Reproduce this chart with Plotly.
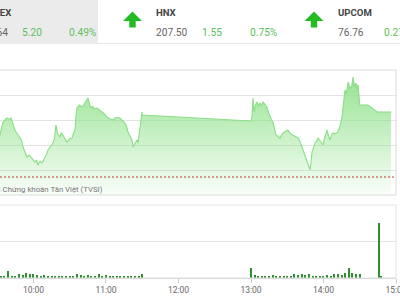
import plotly.graph_objects as go

DAY = "2023-05-30 "

# ---- price series (VNINDEX intraday) ----
price_times = [
    "09:32:00", "09:34:50", "09:36:30", "09:38:05", "09:40:00", "09:41:25", "09:43:00", "09:44:40",
    "09:46:30", "09:48:50", "09:50:00", "09:51:20", "09:53:00", "09:54:35", "09:56:30", "09:58:50",
    "10:00:00", "10:01:10", "10:02:30", "10:03:40", "10:05:20", "10:07:00", "10:08:10", "10:09:30",
    "10:11:00", "10:12:00", "10:14:00", "10:16:05", "10:17:20", "10:18:35", "10:20:00", "10:21:55",
    "10:23:00", "10:24:25", "10:26:00", "10:27:40", "10:30:00", "10:31:55", "10:33:00", "10:34:20",
    "10:35:10", "10:36:00", "10:38:00", "10:40:05", "10:41:30", "10:42:35", "10:44:00", "10:45:05",
    "10:46:20", "10:47:35", "10:49:00", "10:50:00", "10:52:35", "10:54:40", "10:56:40", "10:58:30",
    "11:00:50", "11:03:00", "11:05:50", "11:08:00", "11:11:35", "11:13:30", "11:15:40", "11:17:00",
    "11:18:10", "11:20:00", "11:21:30", "11:22:20", "11:24:00", "11:25:40", "11:26:30", "11:28:05",
    "11:29:50", "11:30:00",
    "13:00:00", "13:00:50", "13:01:40", "13:02:30", "13:03:40", "13:05:00", "13:06:20", "13:07:30",
    "13:08:50", "13:10:00", "13:11:30", "13:13:10", "13:14:30", "13:15:40", "13:17:00", "13:18:10",
    "13:19:30", "13:20:40", "13:22:20", "13:24:00", "13:25:15", "13:26:30", "13:28:30", "13:30:35",
    "13:32:40", "13:34:50", "13:36:50", "13:38:55", "13:40:30", "13:42:10", "13:43:30", "13:44:40",
    "13:46:00", "13:47:10", "13:48:50", "13:49:40", "13:50:30", "13:51:50", "13:53:00", "13:54:20",
    "13:55:30", "13:57:30", "13:59:35", "14:01:00", "14:02:55", "14:04:10", "14:05:25", "14:06:40",
    "14:07:55", "14:10:00", "14:12:00", "14:13:40", "14:15:20", "14:16:30", "14:17:50", "14:19:00",
    "14:20:20", "14:21:50", "14:23:35", "14:24:25", "14:25:40", "14:26:55", "14:27:50", "14:28:35",
    "14:29:25", "14:30:00", "14:36:50", "14:44:20", "14:55:55",
]
price_values = [
    1064.70, 1065.84, 1066.00, 1066.16, 1066.05, 1066.16, 1065.70, 1065.20,
    1064.90, 1064.56, 1064.40, 1063.84, 1063.40, 1063.04, 1063.20, 1062.96,
    1062.80, 1062.64, 1062.80, 1062.40, 1062.70, 1062.56, 1062.75, 1062.96,
    1063.30, 1063.60, 1063.90, 1064.16, 1064.50, 1065.60, 1064.90, 1064.64,
    1065.00, 1064.80, 1064.50, 1064.24, 1064.50, 1064.56, 1064.90, 1065.20,
    1066.30, 1066.96, 1067.20, 1067.04, 1067.20, 1067.36, 1067.50, 1067.76,
    1067.30, 1066.96, 1067.10, 1066.90, 1066.96, 1066.80, 1066.64, 1066.50,
    1066.24, 1066.10, 1066.00, 1066.20, 1066.16, 1066.00, 1065.76, 1065.50,
    1065.04, 1064.70, 1064.40, 1063.84, 1064.10, 1064.40, 1064.16, 1065.44,
    1066.64, 1066.40,
    1065.92, 1066.20, 1067.76, 1066.64, 1067.20, 1067.44, 1067.10, 1067.36,
    1067.20, 1067.44, 1067.20, 1067.04, 1066.60, 1066.24, 1066.00, 1065.84,
    1065.30, 1064.80, 1064.70, 1064.56, 1064.80, 1064.96, 1065.10, 1065.20,
    1064.90, 1064.80, 1064.70, 1064.56, 1064.30, 1063.84, 1063.50, 1063.04,
    1062.70, 1062.40, 1062.00, 1062.60, 1063.44, 1063.80, 1064.16, 1064.30,
    1064.56, 1064.30, 1064.00, 1064.60, 1065.20, 1064.70, 1064.40, 1064.80,
    1064.96, 1064.90, 1065.04, 1065.50, 1066.24, 1067.30, 1068.40, 1068.10,
    1069.04, 1068.50, 1068.80, 1069.44, 1068.70, 1068.96, 1068.50, 1068.80,
    1067.36, 1067.20, 1067.20, 1066.64, 1066.64,
]
ref_value = 1061.44

# ---- volume series (millions of shares) ----
vol_times = [
    "09:33", "09:36", "09:39", "09:42", "09:45", "09:48", "09:51", "09:54", "09:57", "10:00",
    "10:03", "10:06", "10:09", "10:12", "10:15", "10:18", "10:21", "10:24", "10:27", "10:30",
    "10:33", "10:36", "10:39", "10:42", "10:45", "10:48", "10:51", "10:54", "10:57", "11:00",
    "11:03", "11:06", "11:09", "11:12", "11:15", "11:18", "11:21", "11:24", "11:27", "11:30",
    "13:00", "13:03", "13:06", "13:09", "13:12", "13:15", "13:18", "13:21", "13:24", "13:27",
    "13:30", "13:33", "13:36", "13:39", "13:42", "13:45", "13:48", "13:51", "13:54", "13:57",
    "14:00", "14:03", "14:06", "14:09", "14:12", "14:15", "14:18", "14:21", "14:24", "14:27",
    "14:30", "14:46", "14:48",
]
vol_values = [
    0.03, 0.04, 0.20, 0.05, 0.06, 0.12, 0.09, 0.14, 0.10, 0.11,
    0.07, 0.06, 0.08, 0.05, 0.06, 0.04, 0.03, 0.04, 0.03, 0.04,
    0.05, 0.11, 0.07, 0.04, 0.08, 0.05, 0.03, 0.10, 0.04, 0.09,
    0.03, 0.05, 0.03, 0.06, 0.03, 0.04, 0.05, 0.03, 0.04, 0.11,
    0.28, 0.08, 0.04, 0.05, 0.04, 0.06, 0.09, 0.05, 0.04, 0.03,
    0.05, 0.04, 0.11, 0.08, 0.12, 0.09, 0.10, 0.06, 0.04, 0.06,
    0.03, 0.09, 0.05, 0.10, 0.12, 0.09, 0.13, 0.27, 0.14, 0.12,
    0.10, 1.50, 0.03,
]
tick_labels = ["10:00", "11:00", "12:00", "13:00", "14:00", "15:00"]

# ---- header ----
index_names = ["VNINDEX", "HNX", "UPCOM"]
index_values = ["1066.64", "207.50", "76.76"]
index_changes = ["5.20", "1.55", "0.27"]
index_pcts = ["0.49%", "0.75%", ""]

FONT = "Roboto, sans-serif"
W, H, MR = 400, 300, 4
PW = W - MR


def px(x):
    return x / PW


def py(y):
    return 1 - y / H


GREEN_TXT = "#5cbf5c"
GREY_TXT = "#666666"

fig = go.Figure()

fig.add_trace(go.Scatter(
    x=[DAY + t for t in price_times], y=price_values,
    mode="lines", line=dict(color="#8ade85", width=1.1),
    fill="tozeroy",
    fillgradient=dict(type="vertical",
                      colorscale=[[0, "rgba(145,226,140,0.04)"], [1, "rgba(145,226,140,1.0)"]],
                      start=1060, stop=1070),
    xaxis="x", yaxis="y", hoverinfo="skip",
))

fig.add_trace(go.Bar(
    x=[DAY + t + ":00" for t in vol_times], y=vol_values,
    marker=dict(color="#2f8f2f", line=dict(width=0)),
    width=60000, xaxis="x2", yaxis="y2", hoverinfo="skip",
))

xr = [DAY + "09:32:17", DAY + "15:00:00"]
main_dom = [py(195), py(70)]
vol_dom = [py(278), py(205)]

fig.update_layout(
    width=W, height=H,
    margin=dict(l=0, r=MR, t=0, b=0, autoexpand=False),
    paper_bgcolor="white", plot_bgcolor="white",
    showlegend=False, bargap=0,
    font=dict(family=FONT),
    xaxis=dict(domain=[0, 1], range=xr, type="date", anchor="y", automargin=False,
               showgrid=False, showticklabels=False, zeroline=False, showline=False),
    yaxis=dict(domain=main_dom, range=[1060, 1070], tick0=1060, dtick=2, automargin=False,
               gridcolor="#e4e4e4", gridwidth=1, showticklabels=False, zeroline=False),
    xaxis2=dict(domain=[0, 1], range=xr, type="date", anchor="y2", automargin=False,
                tickvals=[DAY + t + ":00" for t in tick_labels], ticktext=tick_labels,
                ticks="outside", ticklen=4, tickcolor="#cccccc", showgrid=False,
                showline=True, linecolor="#d0d0d0", zeroline=False,
                ticklabeloverflow="allow",
                tickfont=dict(family=FONT, size=8.5, color=GREY_TXT)),
    yaxis2=dict(domain=vol_dom, range=[0, 2], dtick=1, gridcolor="#e4e4e4", automargin=False,
                showticklabels=False, zeroline=False),
)

shapes = []
# header grey block and separator
shapes.append(dict(type="rect", xref="paper", yref="paper", x0=-0.02, x1=px(98),
                   y0=py(43), y1=1.01, fillcolor="#ebebeb", line=dict(width=0), layer="below"))
shapes.append(dict(type="line", xref="paper", yref="paper", x0=-0.02, x1=1.02,
                   y0=py(43.5), y1=py(43.5), line=dict(color="#e8e8e8", width=1)))
# panel borders
shapes.append(dict(type="rect", xref="paper", yref="paper", x0=-0.02, x1=1,
                   y0=main_dom[0], y1=main_dom[1], line=dict(color="#dadada", width=1)))
shapes.append(dict(type="rect", xref="paper", yref="paper", x0=-0.02, x1=1,
                   y0=vol_dom[0], y1=vol_dom[1], line=dict(color="#e2e2e2", width=1)))
# reference line
shapes.append(dict(type="line", xref="x domain", yref="y", x0=0, x1=1,
                   y0=ref_value, y1=ref_value, line=dict(color="#c0392b", width=1, dash="2px,2px")))


def arrow(cx):
    pts = [(cx - 9.5, 21), (cx, 11.5), (cx + 9.5, 21), (cx + 3.2, 21), (cx + 3.2, 27.5),
           (cx - 3.2, 27.5), (cx - 3.2, 21)]
    d = "M " + " L ".join(f"{px(a):.5f},{py(b):.5f}" for a, b in pts) + " Z"
    return dict(type="path", xref="paper", yref="paper", path=d,
                fillcolor="#22bb22", line=dict(width=0))


shapes.append(arrow(132.5))
shapes.append(arrow(314))
fig.update_layout(shapes=shapes)

ann = []


def text(t, x, y, anchor, size, color, bold=False):
    ann.append(dict(text=f"<b>{t}</b>" if bold else t, x=px(x), y=py(y), xref="paper", yref="paper",
                    xanchor=anchor, yanchor="middle", showarrow=False,
                    font=dict(family=FONT, size=size, color=color)))


VS = 10.2
NS = 9.6
# VNINDEX (mostly cut off on the left, as in the source)
text(index_names[0], 12.5, 12.5, "right", NS, "#444444", bold=True)
text(index_values[0], 9.5, 32, "right", VS, GREY_TXT)
text(index_changes[0], 19.5, 32, "left", VS, GREEN_TXT)
text(index_pcts[0], 66.5, 32, "left", VS, GREEN_TXT)
# HNX
text(index_names[1], 154, 12.5, "left", NS, "#444444", bold=True)
text(index_values[1], 153.5, 32, "left", VS, GREY_TXT)
text(index_changes[1], 199.5, 32, "left", VS, GREEN_TXT)
text(index_pcts[1], 247.5, 32, "left", VS, GREEN_TXT)
# UPCOM
text(index_names[2], 335.5, 12.5, "left", NS, "#444444", bold=True)
text(index_values[2], 335.5, 32, "left", VS, GREY_TXT)
text(index_changes[2], 381.5, 32, "left", VS, GREEN_TXT)

# copyright
text("©2023 Chứng khoán Tân Việt (TVSI)", 104.5, 189, "right", 7.8, "#777777")

fig.update_layout(annotations=ann)

fig.write_html("out.html")
